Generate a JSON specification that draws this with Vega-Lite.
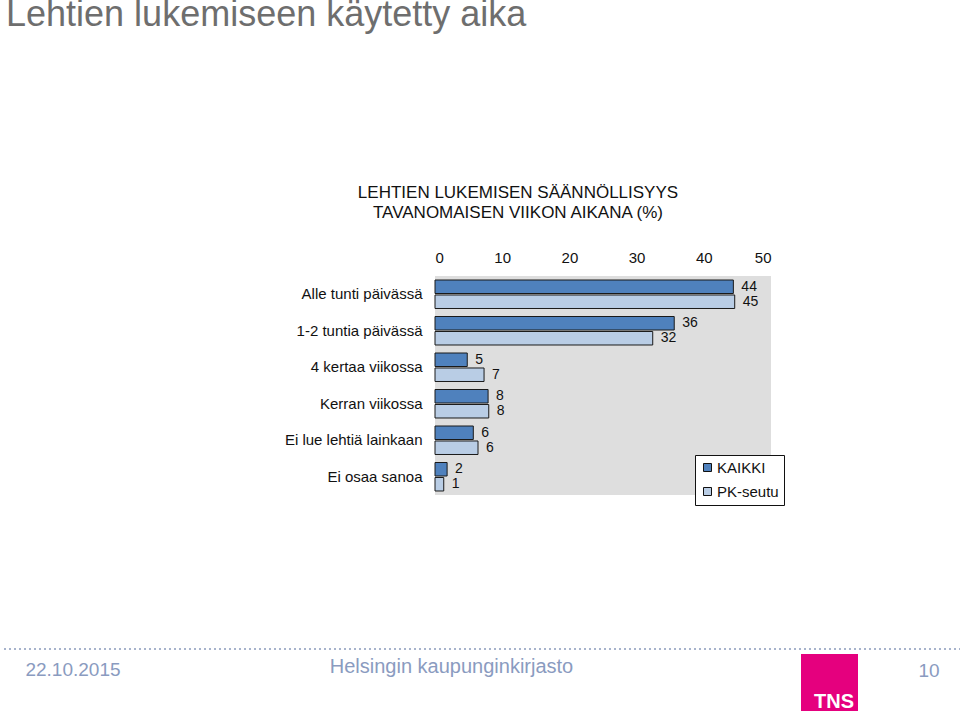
{
  "$schema": "https://vega.github.io/schema/vega-lite/v6.json",
  "background": "white",
  "padding": {"left": 0, "top": -3, "right": 0, "bottom": 0},
  "config": {"font": "Liberation Sans", "view": {"stroke": null}},
  "datasets": {
    "bars": [
      {"cat": "Alle tunti päivässä", "series": "KAIKKI", "value": 44.4},
      {"cat": "Alle tunti päivässä", "series": "PK-seutu", "value": 44.6},
      {"cat": "1-2 tuntia päivässä", "series": "KAIKKI", "value": 35.6},
      {"cat": "1-2 tuntia päivässä", "series": "PK-seutu", "value": 32.4},
      {"cat": "4 kertaa viikossa", "series": "KAIKKI", "value": 4.8},
      {"cat": "4 kertaa viikossa", "series": "PK-seutu", "value": 7.3},
      {"cat": "Kerran viikossa", "series": "KAIKKI", "value": 7.9},
      {"cat": "Kerran viikossa", "series": "PK-seutu", "value": 8.0},
      {"cat": "Ei lue lehtiä lainkaan", "series": "KAIKKI", "value": 5.7},
      {"cat": "Ei lue lehtiä lainkaan", "series": "PK-seutu", "value": 6.4},
      {"cat": "Ei osaa sanoa", "series": "KAIKKI", "value": 1.8},
      {"cat": "Ei osaa sanoa", "series": "PK-seutu", "value": 1.3}
    ]
  },
  "spacing": 4,
  "bounds": "full",
  "vconcat": [
    {
      "spacing": 0,
      "bounds": "flush",
      "hconcat": [
        {
          "width": 434,
          "height": 219,
          "title": {"text": "Lehtien lukemiseen käytetty aika", "anchor": "start", "frame": "group", "fontSize": 36, "fontWeight": "normal", "color": "#6e6e6e", "baseline": "alphabetic", "offset": 214, "dx": 5},
          "data": {"values": []},
          "mark": "text",
          "encoding": {}
        },
        {
          "width": 336,
          "height": 219,
          "view": {"fill": "#dedede", "stroke": null},
          "title": {"text": ["LEHTIEN LUKEMISEN SÄÄNNÖLLISYYS", "TAVANOMAISEN VIIKON AIKANA (%)"], "anchor": "middle", "frame": "group", "fontSize": 17, "fontWeight": "normal", "color": "#111111", "lineHeight": 20, "dx": -85, "offset": 28},
          "data": {"name": "bars"},
          "encoding": {
            "y": {
              "field": "cat", "type": "nominal",
              "sort": ["Alle tunti päivässä", "1-2 tuntia päivässä", "4 kertaa viikossa", "Kerran viikossa", "Ei lue lehtiä lainkaan", "Ei osaa sanoa"],
              "scale": {"paddingInner": 0.22, "paddingOuter": 0.11},
              "axis": {"title": null, "ticks": false, "tickSize": 0, "domain": false, "grid": false, "labelFontSize": 15, "labelPadding": 13, "labelColor": "#111111"}
            },
            "yOffset": {"field": "series", "type": "nominal", "sort": ["KAIKKI", "PK-seutu"], "scale": {"paddingInner": 0.1}},
            "x": {
              "field": "value", "type": "quantitative",
              "scale": {"domain": [0, 50]},
              "axis": {"title": null, "orient": "top", "values": [0, 10, 20, 30, 40, 50], "grid": false, "ticks": false, "tickSize": 0, "domain": false, "labelFontSize": 15, "labelPadding": 11, "labelColor": "#111111"}
            }
          },
          "layer": [
            {
              "mark": {"type": "bar", "stroke": "#1a1a1a", "strokeWidth": 1},
              "encoding": {
                "color": {
                  "field": "series", "type": "nominal",
                  "scale": {"domain": ["KAIKKI", "PK-seutu"], "range": ["#4f81bd", "#b9cde5"]},
                  "legend": {"title": null, "orient": "none", "legendX": 694, "legendY": 179, "symbolType": "square", "symbolSize": 64, "symbolStrokeColor": "#111111", "symbolStrokeWidth": 1, "labelFontSize": 15, "labelColor": "#111111", "labelOffset": 2, "rowPadding": 8, "padding": 5, "strokeColor": "#111111", "fillColor": "white"}
                }
              }
            },
            {
              "mark": {"type": "text", "align": "left", "baseline": "middle", "dx": 8, "fontSize": 14, "color": "#111111"},
              "encoding": {"text": {"field": "value", "type": "quantitative", "format": ".0f"}}
            }
          ]
        }
      ]
    },
    {
      "width": 960,
      "height": 150,
      "data": {"values": [{"line": 0}]},
      "mark": {"type": "rule", "color": "#a7b3cc", "strokeWidth": 2, "strokeDash": [2, 3]},
      "encoding": {"y": {"datum": 0, "type": "quantitative", "scale": {"domain": [0, 1]}, "axis": null}}
    },
    {
      "spacing": 0,
      "bounds": "flush",
      "hconcat": [
        {
          "width": 144, "height": 57,
          "data": {"values": [{"t": "22.10.2015"}]},
          "mark": {"type": "text", "fontSize": 19, "color": "#8a9bc0", "baseline": "middle", "dy": -12.5},
          "encoding": {"text": {"field": "t"}}
        },
        {
          "width": 613, "height": 57,
          "data": {"values": [{"t": "Helsingin kaupunginkirjasto"}]},
          "mark": {"type": "text", "fontSize": 20, "color": "#8a9bc0", "baseline": "middle", "dy": -15.5},
          "encoding": {"text": {"field": "t"}}
        },
        {
          "width": 43, "height": 57,
          "data": {"values": []},
          "mark": "text",
          "encoding": {}
        },
        {
          "width": 57, "height": 57,
          "data": {"values": [{"t": "TNS"}]},
          "layer": [
            {"mark": {"type": "bar", "color": "#e5007e"}, "encoding": {}},
            {"mark": {"type": "text", "fontSize": 20, "fontWeight": "bold", "color": "white", "baseline": "middle", "dx": 4.5, "dy": 19.5}, "encoding": {"text": {"field": "t"}}}
          ]
        },
        {
          "width": 103, "height": 57,
          "data": {"values": [{"t": "10"}]},
          "mark": {"type": "text", "fontSize": 19, "color": "#8a9bc0", "baseline": "middle", "dx": 19.5, "dy": -11.5},
          "encoding": {"text": {"field": "t"}}
        }
      ]
    }
  ]
}
